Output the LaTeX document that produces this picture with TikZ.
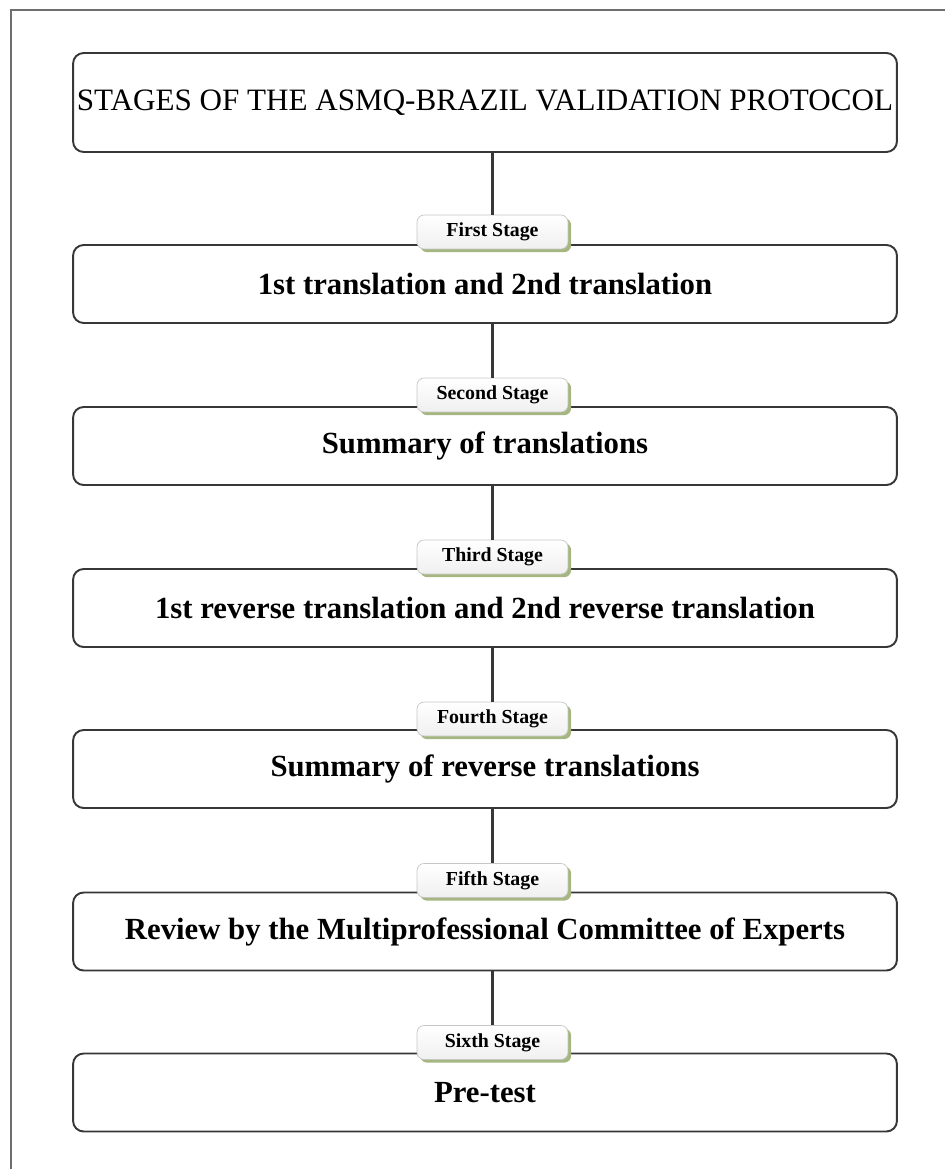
\documentclass[tikz,border=0pt]{standalone}
\usepackage{fontspec}
\setmainfont{Liberation Serif}
\usetikzlibrary{shadows}

\definecolor{framegray}{RGB}{110,110,110}
\definecolor{boxline}{RGB}{55,55,55}
\definecolor{tabshadow}{RGB}{165,182,128}

\tikzset{
  stagebox/.style={draw=boxline, line width=1.1pt, rounded corners=6pt,
    minimum width=16.48cm, minimum height=1.56cm, inner sep=0pt,
    font=\fontsize{17.5}{20}\selectfont\bfseries},
  titlebox/.style={stagebox, minimum height=1.98cm,
    font=\fontsize{17.7}{20}\selectfont},
  stagetab/.style={draw=gray!45, line width=0.4pt, rounded corners=4pt,
    top color=white, bottom color=gray!12,
    minimum width=3.02cm, minimum height=0.68cm, inner sep=0pt,
    font=\fontsize{11.3}{13}\selectfont\bfseries,
    drop shadow={shadow xshift=1.8pt, shadow yshift=-1.8pt, fill=tabshadow, opacity=1}},
  link/.style={draw=boxline, line width=1.2pt}
}

\begin{document}
\begin{tikzpicture}[x=0.02cm, y=-0.02cm]
  \useasboundingbox (0,0) rectangle (945,1169);
  \draw[framegray, line width=0.6pt] (11,1169) -- (11,10) -- (945,10);

  % main boxes
  \node[titlebox] (title) at (485,102.5) {STAGES OF THE ASMQ-BRAZIL VALIDATION PROTOCOL};
  \node[stagebox] (b1) at (485,284) {1st translation and 2nd translation};
  \node[stagebox] (b2) at (485,446) {Summary of translations};
  \node[stagebox] (b3) at (485,608) {1st reverse translation and 2nd reverse translation};
  \node[stagebox] (b4) at (485,769) {Summary of reverse translations};
  \node[stagebox] (b5) at (485,931.5) {Review by the Multiprofessional Committee of Experts};
  \node[stagebox] (b6) at (485,1092.5) {Pre-test};

  % stage tabs sitting on the top edge
  \node[stagetab] (s1) at (492.5,232) {First Stage};
  \node[stagetab] (s2) at (492.5,395) {Second Stage};
  \node[stagetab] (s3) at (492.5,557) {Third Stage};
  \node[stagetab] (s4) at (492.5,719) {Fourth Stage};
  \node[stagetab] (s5) at (492.5,880.5) {Fifth Stage};
  \node[stagetab] (s6) at (492.5,1042.5) {Sixth Stage};

  \draw[link] (title.south -| s1.north) -- (s1.north);
  \draw[link] (b1.south -| s2.north) -- (s2.north);
  \draw[link] (b2.south -| s3.north) -- (s3.north);
  \draw[link] (b3.south -| s4.north) -- (s4.north);
  \draw[link] (b4.south -| s5.north) -- (s5.north);
  \draw[link] (b5.south -| s6.north) -- (s6.north);
\end{tikzpicture}
\end{document}
